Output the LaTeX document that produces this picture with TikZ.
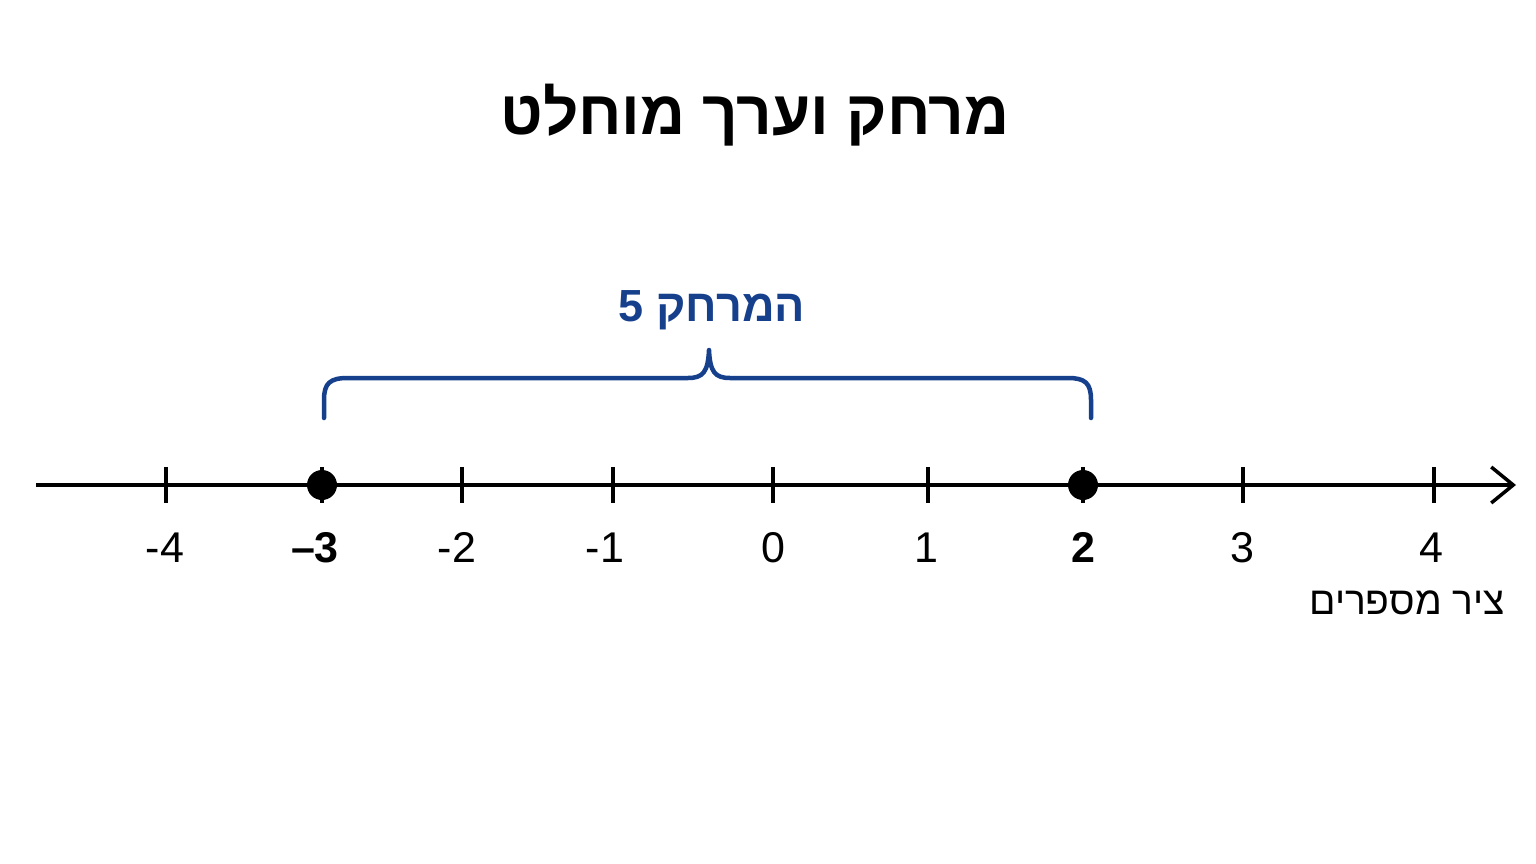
\documentclass[tikz,border=0pt]{standalone}
\usepackage{fontspec}
\setmainfont{Liberation Sans}
\newfontfamily\hebfont[Script=Hebrew]{Liberation Sans}
\TeXXeTstate=1
\usetikzlibrary{arrows.meta}
\definecolor{bracecol}{RGB}{22,64,140}
\begin{document}
\begin{tikzpicture}[x=1pt,y=-1pt,
  axisline/.style={line width=3.5pt,black},
  tickline/.style={line width=3.5pt,black},
  numlab/.style={font=\fontsize{43}{46}\selectfont,inner sep=0pt,anchor=base},
  boldlab/.style={numlab,font=\fontsize{43}{46}\selectfont\bfseries},
  dotmark/.style={circle,fill=black,inner sep=0pt,minimum size=30pt},
  bracestyle/.style={line width=4.5pt,bracecol,line cap=round,line join=round}]
\useasboundingbox (0,0) rectangle (1536,864);
\fill[white] (0,0) rectangle (1536,864);
% title
\node[font=\fontsize{62}{68}\selectfont\bfseries\hebfont,anchor=base] (title) at (755,135) {\beginR מרחק וערך מוחלט\endR};
% axis
\coordinate (astart) at (36,485);
\coordinate (aend) at (1516,485);
\draw[axisline,-{Straight Barb[length=22pt,width=36pt,line width=3.5pt]}] (astart) -- (aend);
% ticks
\foreach \n/\x in {m4/166,m3/322,m2/462,m1/613,z/773,p1/928,p2/1083,p3/1243,p4/1434}{
  \coordinate (t\n) at (\x,485);
  \draw[tickline] (\x,467) -- (\x,503);
}
\node[dotmark] (dA) at (tm3) {};
\node[dotmark] (dB) at (tp2) {};
% labels
\node[numlab] (lm4) at (165,562) {-4};
\node[boldlab] (lm3) at (315,562) {–3};
\node[numlab] (lm2) at (457,562) {-2};
\node[numlab] (lm1) at (605,562) {-1};
\node[numlab] (lz) at (773,562) {0};
\node[numlab] (lp1) at (926,562) {1};
\node[boldlab] (lp2) at (1083,562) {2};
\node[numlab] (lp3) at (1242,562) {3};
\node[numlab] (lp4) at (1431,562) {4};
\node[font=\fontsize{39}{42}\selectfont\hebfont,anchor=base east,inner sep=0pt] (axlab) at (1505,614) {\beginR ציר מספרים\endR};
% brace
\coordinate (bl) at (324,418);
\coordinate (br) at (1091,418);
\coordinate (btip) at (709,350);
\draw[bracestyle] (bl) -- (324,400) .. controls (324,383) and (330,378) .. (348,378) -- (688,378) .. controls (703,378) and (708,372) .. (btip) .. controls (710,372) and (715,378) .. (730,378) -- (1068,378) .. controls (1085,378) and (1091,383) .. (1091,400) -- (br);
\node[font=\fontsize{45}{48}\selectfont\bfseries\hebfont,text=bracecol,anchor=base] (blab) at (712,321) {\beginR המרחק 5\endR};
\end{tikzpicture}
\end{document}
